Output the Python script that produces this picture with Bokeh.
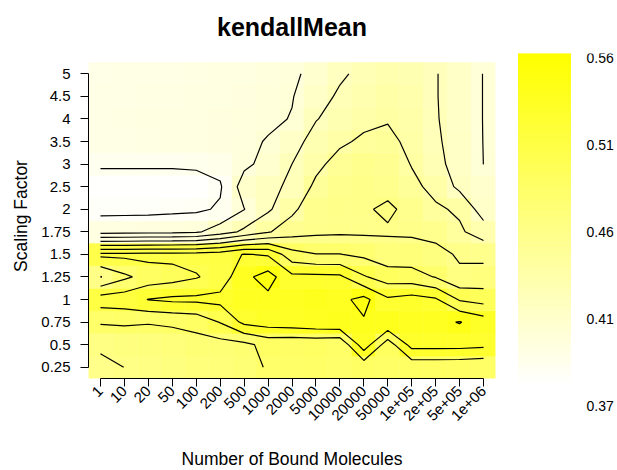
import math
import numpy as np
from bokeh.plotting import figure
from bokeh.layouts import row
from bokeh.models import FixedTicker, ColumnDataSource, Range1d
from bokeh.transform import linear_cmap
from bokeh.core.properties import value
from bokeh.embed import file_html
from bokeh.resources import INLINE

# ---------------- data ----------------
x_labels = ["1", "10", "20", "50", "100", "200", "500", "1000", "2000", "5000",
            "10000", "20000", "50000", "1e+05", "2e+05", "5e+05", "1e+06"]
y_labels = ["0.25", "0.5", "0.75", "1", "1.25", "1.5", "1.75", "2", "2.5",
            "3", "3.5", "4", "4.5", "5"]

# kendallMean, one list per scaling factor (columns follow x_labels)
sf_0_25 = [0.457, 0.4601, 0.462, 0.465, 0.468, 0.470, 0.472, 0.482, 0.483, 0.484, 0.482, 0.4864, 0.484, 0.4865, 0.4865, 0.486, 0.484]
sf_0_5 = [0.462, 0.465, 0.466, 0.4683, 0.473, 0.4726, 0.475, 0.4865, 0.485, 0.486, 0.483, 0.5318, 0.489, 0.5273, 0.5273, 0.527, 0.525]
sf_0_75 = [0.482, 0.483, 0.4815, 0.4835, 0.4865, 0.501, 0.525, 0.530, 0.532, 0.535, 0.538, 0.538, 0.538, 0.535, 0.535, 0.541, 0.530]
sf_1 = [0.510, 0.512, 0.5205, 0.524, 0.5245, 0.526, 0.535, 0.535, 0.535, 0.538, 0.535, 0.546, 0.523, 0.528, 0.5225, 0.498, 0.4925]
sf_1_25 = [0.459, 0.476, 0.488, 0.492, 0.4985, 0.508, 0.535, 0.548, 0.525, 0.525, 0.524, 0.502, 0.490, 0.488, 0.479, 0.463, 0.4665]
sf_1_5 = [0.505, 0.505, 0.5065, 0.506, 0.507, 0.510, 0.521, 0.518, 0.487, 0.4805, 0.4805, 0.476, 0.468, 0.469, 0.465, 0.458, 0.4557]
sf_1_75 = [0.392, 0.393, 0.394, 0.395, 0.397, 0.410, 0.424, 0.438, 0.452, 0.456, 0.457, 0.457, 0.458, 0.457, 0.455, 0.443, 0.430]
sf_2 = [0.375, 0.375, 0.375, 0.376, 0.377, 0.382, 0.3995, 0.417, 0.435, 0.455, 0.457, 0.458, 0.463, 0.455, 0.443, 0.437, 0.410]
sf_2_5 = [0.372, 0.372, 0.372, 0.372, 0.372, 0.378, 0.409, 0.418, 0.4215, 0.445, 0.455, 0.458, 0.455, 0.445, 0.434, 0.4155, 0.407]
sf_3 = [0.382, 0.382, 0.382, 0.382, 0.383, 0.386, 0.396, 0.406, 0.420, 0.434, 0.449, 0.455, 0.452, 0.439, 0.425, 0.413, 0.3999]
sf_3_5 = [0.389, 0.390, 0.391, 0.392, 0.393, 0.394, 0.395, 0.4015, 0.412, 0.428, 0.436, 0.444, 0.445, 0.435, 0.4225, 0.413, 0.3996]
sf_4 = [0.390, 0.391, 0.392, 0.392, 0.393, 0.394, 0.395, 0.396, 0.401, 0.419, 0.428, 0.434, 0.4385, 0.434, 0.4215, 0.411, 0.3995]
sf_4_5 = [0.389, 0.390, 0.391, 0.391, 0.392, 0.393, 0.394, 0.396, 0.399, 0.412, 0.423, 0.430, 0.436, 0.432, 0.421, 0.411, 0.3995]
sf_5 = [0.388, 0.389, 0.390, 0.390, 0.391, 0.392, 0.393, 0.395, 0.397, 0.405, 0.417, 0.425, 0.430, 0.428, 0.421, 0.411, 0.3995]

contour_levels = [0.38, 0.40, 0.42, 0.44, 0.46, 0.48, 0.50, 0.52, 0.54]
legend_labels = ["0.56", "0.51", "0.46", "0.41", "0.37"]
z_low, z_high = 0.37, 0.56

# ---------------- build ----------------
Z = np.array([sf_0_25, sf_0_5, sf_0_75, sf_1, sf_1_25, sf_1_5, sf_1_75, sf_2,
              sf_2_5, sf_3, sf_3_5, sf_4, sf_4_5, sf_5])
ny, nx = Z.shape
xi = np.arange(nx)
yi = np.arange(ny)
XX, YY = np.meshgrid(xi, yi)

palette = ["#ffff%02x" % int(round(255 * (1 - i / 255))) for i in range(256)]

FONT = "Liberation Sans"
H = 470
TOP = 53                 # top of frame = top of colour bar
HEAT_BOTTOM = 378        # bottom of heat map = x axis
CELL = 316 / ny          # pixel height of one heat-map row
FRAME_H = HEAT_BOTTOM - TOP
pad_top = (FRAME_H - 316) / CELL

p = figure(frame_width=407, frame_height=FRAME_H, output_backend="svg",
           toolbar_location=None,
           x_range=Range1d(-0.5, nx - 0.5),
           y_range=Range1d(-0.5, ny - 0.5 + pad_top),
           min_border_left=88, min_border_right=15, min_border_top=TOP,
           min_border_bottom=H - HEAT_BOTTOM)
p.outline_line_color = None
p.grid.visible = False

src = ColumnDataSource(dict(x=XX.ravel(), y=YY.ravel(), z=Z.ravel()))
cmap = linear_cmap("z", palette, z_low, z_high)
p.rect(x="x", y="y", width=1, height=1, source=src,
       fill_color=cmap, line_color=cmap, line_width=0.6)

p.contour(x=xi, y=yi, z=Z, levels=contour_levels,
          line_color="black", line_width=1.2)

p.title.text = "kendallMean"
p.title.align = "center"
p.title.vertical_align = "top"
p.title.text_font = FONT
p.title.text_font_size = "25px"
p.title.text_font_style = "bold"
p.title.text_color = "black"
p.title.standoff = 22

for ax in (p.xaxis[0], p.yaxis[0]):
    ax.major_tick_out = 8
    ax.major_tick_in = 0
    ax.minor_tick_line_color = None
    ax.axis_line_color = "black"
    ax.major_tick_line_color = "black"
    ax.major_label_text_font = FONT
    ax.major_label_text_font_size = "15px"
    ax.major_label_text_color = "black"
    ax.axis_label_text_font = FONT
    ax.axis_label_text_font_size = "17.5px"
    ax.axis_label_text_font_style = "normal"
    ax.axis_label_text_color = "black"

p.xaxis.ticker = FixedTicker(ticks=list(range(nx)))
p.xaxis.major_label_overrides = {i: s for i, s in enumerate(x_labels)}
p.xaxis.major_label_orientation = math.pi / 4
p.xaxis.bounds = (0, nx - 1)
p.xaxis.major_label_standoff = 2
p.xaxis.axis_label = "Number of Bound Molecules"
p.xaxis.axis_label_standoff = 21

p.yaxis.ticker = FixedTicker(ticks=list(range(ny)))
p.yaxis.major_label_overrides = {i: s for i, s in enumerate(y_labels)}
p.yaxis.major_label_orientation = "horizontal"
p.yaxis.bounds = (0, ny - 1)
p.yaxis.major_label_standoff = 10
p.yaxis.axis_label = "Scaling Factor"
p.yaxis.axis_label_standoff = 7

# ---------------- colour legend ----------------
CBW = 107
BAR_H = 332
CB_FRAME_H = 360
per_px = (z_high - z_low) / BAR_H
y_top = z_high
y_bot = z_high - CB_FRAME_H * per_px

cb = figure(frame_width=CBW, frame_height=CB_FRAME_H, output_backend="svg",
            toolbar_location=None, title=None,
            x_axis_location=None, y_axis_location=None,
            x_range=Range1d(0, CBW), y_range=Range1d(y_bot, y_top),
            min_border=0, min_border_top=TOP)
cb.outline_line_color = None
cb.grid.visible = False

steps = np.linspace(z_low, z_high, 200)
dz = steps[1] - steps[0]
cb_src = ColumnDataSource(dict(y=steps, z=steps))
cb_cmap = linear_cmap("z", palette, z_low, z_high)
cb.rect(x=34, y="y", width=52, height=dz, source=cb_src,
        fill_color=cb_cmap, line_color=cb_cmap, line_width=1)

lab_pos = np.linspace(z_high - 4 * per_px, z_high - 352 * per_px,
                      len(legend_labels))
cb.text(x=76, y=lab_pos, text=legend_labels, text_font=value(FONT),
        text_font_size="14px", text_baseline="middle", text_align="left",
        text_color="black")

layout = row(p, cb)
open("out.html", "w").write(file_html(layout, INLINE))
